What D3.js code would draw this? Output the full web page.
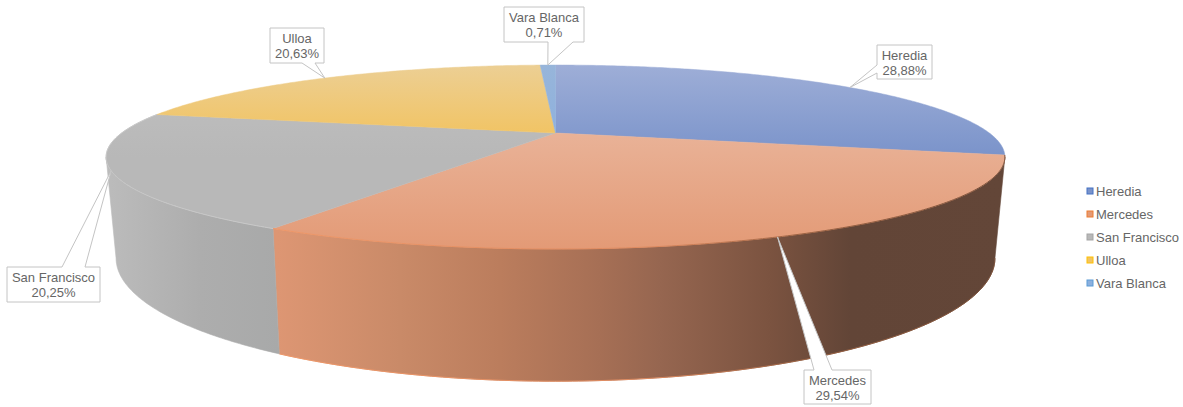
<!DOCTYPE html>
<html>
<head>
<meta charset="utf-8">
<script src="https://cdn.jsdelivr.net/npm/d3@7"></script>
<style>
  html, body { margin: 0; padding: 0; background: #fff; }
  svg { display: block; }
  text { font-family: "Liberation Sans", Arial, sans-serif; }
</style>
</head>
<body>
<svg id="chart" width="1183" height="407"></svg>
<script>
// Share of each district, in percent
const categories = ["Heredia", "Mercedes", "San Francisco", "Ulloa", "Vara Blanca"];
const shares = [28.88, 29.54, 20.25, 20.63, 0.71];
const shareLabels = ["28,88%", "29,54%", "20,25%", "20,63%", "0,71%"];

// Fill ramps of the top face (vertical), one per district
const topRamps = [
  ["#9eaed7", "#7a93ca"],
  ["#e9b297", "#e39a76"],
  ["#c0c0c0", "#b8b8b8"],
  ["#eccf94", "#f1c465"],
  ["#97b5da", "#8cb0de"]
];
const legendColors = ["#4472c4", "#ed7d31", "#a5a5a5", "#ffc000", "#5b9bd5"];

// Callout boxes: [left, top, right, bottom], plus the side and span the pointer leaves from
const calloutBoxes = [
  { box: [877, 45, 932, 79], side: "left", base: [65, 73] },
  { box: [804, 370, 871, 404], side: "top", base: [814, 832] },
  { box: [7, 267, 100, 302], side: "top", base: [62, 85] },
  { box: [270, 28, 324, 63], side: "bottom", base: [302, 315] },
  { box: [504, 7, 584, 42], side: "bottom", base: [548, 573] }
];

const svg = d3.select("#chart");
const defs = svg.append("defs");

// Perspective of the tilted disc: the near edge is drawn larger than the far one
const tilt = 0.261;
const topFace = { cx: 555.5, cy: 133, rx: 433.8, ry: 85.7 };
const baseFace = { cx: 555.5, cy: 226, rx: 424.2, ry: 114.7 };

function scalesFor(f) {
  return {
    x: d3.scaleLinear().domain([-1, 1]).range([f.cx - f.rx, f.cx + f.rx]),
    y: d3.scaleLinear().domain([-1, 1]).range([f.cy - f.ry, f.cy + f.ry])
  };
}
const topScale = scalesFor(topFace);
const baseScale = scalesFor(baseFace);

function project(scale, angle) {
  const w = 1 + tilt * Math.cos(angle);
  return [scale.x(Math.sin(angle) / w), scale.y(-Math.cos(angle) / w)];
}
function arcPoints(scale, a0, a1) {
  const n = Math.max(2, Math.ceil(Math.abs(a1 - a0) / 0.01));
  return d3.range(n + 1).map(i => project(scale, a0 + (a1 - a0) * i / n));
}

const slices = d3.pie().sort(null).value(d => d)(shares);
const line = d3.line();
const silhouette = Math.acos(-tilt); // angle where the side wall turns out of view

// Gradients across the whole disc, used by side walls and rims
function wallGradient(id, stops) {
  const g = defs.append("linearGradient").attr("id", id)
    .attr("gradientUnits", "userSpaceOnUse")
    .attr("x1", 100).attr("x2", 1005).attr("y1", 0).attr("y2", 0);
  stops.forEach(([o, c]) => g.append("stop")
    .attr("offset", (o - 100) / 905).attr("stop-color", c));
}
wallGradient("wall-mercedes", [
  [278, "#dd9673"], [400, "#c98a68"], [500, "#bb7d5d"], [600, "#a66f55"],
  [660, "#966650"], [770, "#7b5340"], [850, "#624537"], [1005, "#634638"]
]);
wallGradient("wall-sanfrancisco", [
  [105, "#bcbcbc"], [200, "#adadad"], [280, "#a8a9a9"]
]);
wallGradient("rim-mercedes", [
  [278, "#ee9768"], [650, "#df8a5f"], [800, "#9c6242"], [1005, "#7a4f38"]
]);

// Visible side walls: Mercedes and San Francisco
const wallSlices = [
  { i: 1, fill: "url(#wall-mercedes)", rim: "url(#rim-mercedes)" },
  { i: 2, fill: "url(#wall-sanfrancisco)", rim: null }
];
wallSlices.forEach(({ i, fill, rim }) => {
  const a0 = Math.max(slices[i].startAngle, silhouette);
  const a1 = Math.min(slices[i].endAngle, 2 * Math.PI - silhouette);
  const pts = arcPoints(topScale, a0, a1).concat(arcPoints(baseScale, a1, a0));
  svg.append("path").attr("d", line(pts) + "Z").attr("fill", fill)
    .attr("stroke", fill).attr("stroke-width", 0.6);
  if (rim) {
    svg.append("path").attr("d", line(arcPoints(baseScale, a0, a1)))
      .attr("fill", "none").attr("stroke", rim).attr("stroke-width", 1);
  }
});

// Top face of the disc
slices.forEach((s, i) => {
  const id = "top-" + i;
  const g = defs.append("linearGradient").attr("id", id)
    .attr("gradientUnits", "userSpaceOnUse")
    .attr("x1", 0).attr("x2", 0).attr("y1", i === 1 ? topFace.cy : 65)
    .attr("y2", i === 1 ? 249 : i === 3 ? topFace.cy : 157);
  g.append("stop").attr("offset", 0).attr("stop-color", topRamps[i][0]);
  g.append("stop").attr("offset", 1).attr("stop-color", topRamps[i][1]);
  const pts = [[topFace.cx, topFace.cy]].concat(arcPoints(topScale, s.startAngle, s.endAngle));
  svg.append("path").attr("d", line(pts) + "Z").attr("fill", `url(#${id})`)
    .attr("stroke", `url(#${id})`).attr("stroke-width", 0.5);
});

// Rim highlights on the front of the top face
svg.append("path")
  .attr("d", line(arcPoints(topScale, slices[1].startAngle, slices[1].endAngle)))
  .attr("fill", "none").attr("stroke", "url(#rim-mercedes)").attr("stroke-width", 1);
svg.append("path")
  .attr("d", line(arcPoints(topScale, slices[2].startAngle, slices[2].endAngle)))
  .attr("fill", "none").attr("stroke", "#c8c8c8").attr("stroke-width", 1);

// Data label callouts, each pointing at the rim midpoint of its slice
const labels = svg.append("g");
slices.forEach((s, i) => {
  const c = calloutBoxes[i];
  const [l, t, r, b] = c.box;
  const tip = project(topScale, (s.startAngle + s.endAngle) / 2);
  let pts;
  if (c.side === "left") {
    pts = [[l, t], [r, t], [r, b], [l, b], [l, c.base[1]], tip, [l, c.base[0]]];
  } else if (c.side === "top") {
    pts = [[l, t], [c.base[0], t], tip, [c.base[1], t], [r, t], [r, b], [l, b]];
  } else {
    pts = [[l, t], [r, t], [r, b], [c.base[1], b], tip, [c.base[0], b], [l, b]];
  }
  labels.append("path").attr("d", line(pts) + "Z")
    .attr("fill", "#fff").attr("stroke", "#c4c4c4").attr("stroke-width", 1);
  const tx = (l + r) / 2;
  labels.append("text").attr("x", tx).attr("y", t + 14.5)
    .attr("text-anchor", "middle").attr("font-size", 13).attr("fill", "#666")
    .text(categories[i]);
  labels.append("text").attr("x", tx).attr("y", t + 30)
    .attr("text-anchor", "middle").attr("font-size", 13).attr("fill", "#666")
    .text(shareLabels[i]);
});

// Legend
const legendY = d3.scalePoint().domain(categories).range([191, 283]);
const legend = svg.append("g");
categories.forEach((name, i) => {
  legend.append("rect")
    .attr("x", 1087).attr("y", legendY(name) - 3).attr("width", 6).attr("height", 6)
    .attr("fill", topRamps[i][1]).attr("stroke", legendColors[i]).attr("stroke-width", 1);
  legend.append("text").attr("x", 1096).attr("y", legendY(name) + 4.5)
    .attr("font-size", 13).attr("fill", "#666").text(name);
});
</script>
</body>
</html>
